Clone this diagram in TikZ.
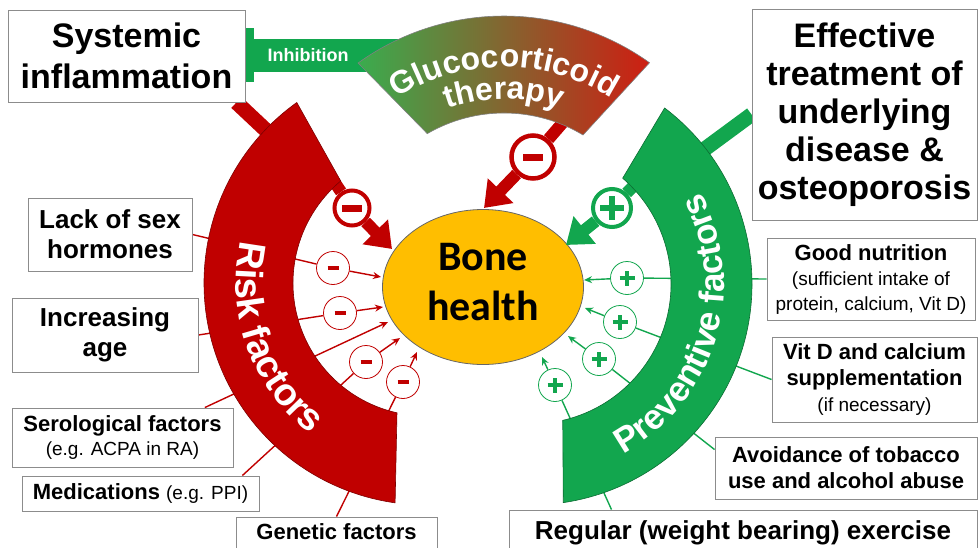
\documentclass[tikz,border=0pt]{standalone}
\usepackage{fontspec}
\setmainfont{Liberation Sans}
\newfontfamily\bonefont{Carlito}
\usetikzlibrary{shapes.geometric, arrows.meta, calc, decorations.text}
\definecolor{riskred}{RGB}{192,0,0}
\definecolor{prevgreen}{RGB}{18,166,78}
\definecolor{gcgreen}{RGB}{58,172,78}
\definecolor{gcred}{RGB}{206,30,18}
\definecolor{bonegold}{RGB}{255,190,0}
\pgfdeclarelayer{bg}
\pgfsetlayers{bg,main}
\tikzset{
	box/.style={rectangle, draw=black!45, line width=0.9pt, fill=white, align=center, inner sep=0pt},
	minusc/.style={circle, draw=riskred, line width=0.8pt, fill=white, text=riskred, minimum size=33pt, inner sep=0pt},
	plusc/.style={circle, draw=prevgreen, line width=0.8pt, fill=white, text=prevgreen, minimum size=33pt, inner sep=0pt},
	feed/.style={line width=1.4pt},
	arr/.style={feed, -{Stealth[length=8pt, width=7pt]}},
	bigarr/.style={line width=12pt, -{Triangle[length=24pt, width=34pt]}},
	band/.style={line width=15pt}
}
\newcommand{\msign}{\rule[-2pt]{11pt}{4pt}}
\newcommand{\psign}{\rule[-1.75pt]{15pt}{3.5pt}\llap{\rule[-7.5pt]{3.5pt}{15pt}\hspace{5.75pt}}}
\newcommand{\bigmsign}{\rule[-3.5pt]{20pt}{7pt}}
\newcommand{\bigpsign}{\rule[-3pt]{24pt}{6pt}\llap{\rule[-12pt]{6pt}{24pt}\hspace{9pt}}}
\newcommand{\note}[1]{{\mdseries\fontsize{19}{24}\selectfont #1}}
\newcommand{\riskfont}{\bfseries\fontsize{38}{38}\selectfont}
\newcommand{\prevfont}{\bfseries\fontsize{35}{35}\selectfont}
\newcommand{\gcfont}{\bfseries\fontsize{32}{32}\selectfont}

\begin{document}
\begin{tikzpicture}[x=1pt, y=-1pt,
        riskarc/.style={fill=riskred, draw=black!35!riskred, line width=0.6pt},
        prevarc/.style={fill=prevgreen, draw=black!35!prevgreen, line width=0.6pt},
        arctext/.style={decorate, decoration={text along path, text align=center, text color=white, text={#1}}}
    ]
        \useasboundingbox (0,0) rectangle (979,547);
        \clip (0,0) rectangle (979,547);

        % boxes
        \node[box, minimum width=237pt, minimum height=92pt, font=\bfseries\fontsize{34}{41}\selectfont] (sysinf) at (126.5,56) {Systemic\\inflammation};
        \node[box, minimum width=225pt, minimum height=211pt, font=\bfseries\fontsize{34}{38}\selectfont] (efftr) at (864.5,114.5) {Effective\\treatment of\\underlying\\disease \&\\osteoporosis};
        \node[box, minimum width=164pt, minimum height=73pt, font=\bfseries\fontsize{26}{30}\selectfont] (lack) at (110,234.5) {Lack of sex\\hormones};
        \node[box, minimum width=186pt, minimum height=74pt, font=\bfseries\fontsize{26}{30}\selectfont] (age) at (105,335) {Increasing\\age};
        \node[box, minimum width=221pt, minimum height=59pt, font=\bfseries\fontsize{22}{24}\selectfont] (sero) at (122.5,437.5) {Serological factors\\\note{(e.g. ACPA in RA)}};
        \node[box, minimum width=237pt, minimum height=35pt, font=\bfseries\fontsize{22}{24}\selectfont] (med) at (140.5,493.5) {Medications \note{(e.g. PPI)}};
        \node[box, minimum width=201pt, minimum height=48pt, text depth=18pt, font=\bfseries\fontsize{22}{24}\selectfont] (gen) at (336.5,541) {Genetic factors};
        \node[box, minimum width=208pt, minimum height=82pt, font=\bfseries\fontsize{22}{25}\selectfont] (good) at (871,279) {Good nutrition\\\note{(sufficient intake of}\\\note{protein, calcium, Vit D)}};
        \node[box, minimum width=205pt, minimum height=85pt, font=\bfseries\fontsize{22}{26}\selectfont] (vitd) at (874.5,379.5) {Vit D and calcium\\supplementation\\\note{(if necessary)}};
        \node[box, minimum width=262pt, minimum height=62pt, font=\bfseries\fontsize{22}{26}\selectfont] (avoid) at (846,468) {Avoidance of tobacco\\use and alcohol abuse};
        \node[box, minimum width=468pt, minimum height=55pt, text depth=14pt, font=\bfseries\fontsize{26}{30}\selectfont] (reg) at (743,537.5) {Regular (weight bearing) exercise};

        \node[ellipse, draw=black!60, line width=0.8pt, fill=bonegold, minimum width=201pt, minimum height=155pt, inner sep=0pt, align=center, text depth=10pt, font=\bonefont\bfseries\fontsize{42}{50}\selectfont] (bone) at (483,287) {Bone\\health};

        % signs
        \node[minusc] (c1) at (333,268) {\msign};
        \node[minusc] (c2) at (340,313) {\msign};
        \node[minusc] (c3) at (366,362) {\msign};
        \node[minusc] (c4) at (403,382) {\msign};
        \node[plusc] (g1) at (627,278) {\psign};
        \node[plusc] (g2) at (620,322) {\psign};
        \node[plusc] (g3) at (599,359) {\psign};
        \node[plusc] (g4) at (555,385) {\psign};
        \node[minusc, line width=4pt, minimum size=35pt] (rbig) at (352,208) {\bigmsign};
        \node[minusc, line width=4.5pt, minimum size=43pt] (gbig) at (533,157) {\bigmsign};
        \node[plusc, line width=4pt, minimum size=38pt] (pbig) at (612,208) {\bigpsign};
        \node[font=\bfseries\fontsize{18}{18}\selectfont, text=white] (inhlbl) at (308,55) {Inhibition};

        \coordinate (rc) at (426,283);
        \coordinate (pc) at (531,284);
        \coordinate (gc) at (504,266);
        \coordinate (sysend) at (287,150);
        \coordinate (effend) at (698,154);
        \coordinate (inhend) at (410,55);
        \coordinate (rstart) at (333,180);
        \coordinate (gstart) at (572,112);
        \coordinate (pstart) at (652,167);
        \coordinate (rtip) at (392,249);
        \coordinate (gtip) at (484,208);
        \coordinate (ptip) at (566,245);
        \coordinate (t1) at (381,277);
        \coordinate (t2) at (383,307);
        \coordinate (ts) at (388,322);
        \coordinate (t3) at (400,338);
        \coordinate (t4) at (417,352);
        \coordinate (u1) at (584,280);
        \coordinate (u2) at (585,308);
        \coordinate (u3) at (568,336);
        \coordinate (u4) at (542,357);

        \begin{pgfonlayer}{bg}
        \draw[riskred, feed] (lack.east) -- (c1);
        \draw[riskred, feed] (age.east) -- (c2);
        \draw[riskred, arr] (sero.20) -- (ts);
        \draw[riskred, feed] (med.10) -- (c3);
        \draw[riskred, feed] (gen.north) -- (c4);
        \draw[prevgreen, feed] (good.west) -- (g1);
        \draw[prevgreen, feed] (vitd.west) -- (g2);
        \draw[prevgreen, feed] (avoid.172) -- (g3);
        \draw[prevgreen, feed] (reg.168) -- (g4);

        \draw[riskred, band] ($(sysinf.south east)+(-9,0)$) -- (sysend);
        \draw[prevgreen, band] (efftr.west) -- (effend);
        \draw[prevgreen, line width=33pt] (inhend) -- (inhend -| sysinf.east);
        \fill[prevgreen] ($(inhend -| sysinf.east)+(0,-27)$) rectangle ++(9,54);
        \draw[riskred, line width=12pt] (rstart) -- (rbig);
        \draw[riskred, line width=12pt] (gstart) -- (gbig);
        \draw[prevgreen, line width=12pt] (pstart) -- (pbig);

        % bands
        \filldraw[riskarc] ($(rc)+(-125.6:222)$) arc[start angle=-125.6, end angle=-262, radius=222]
            -- ($(rc)+(-257.4:133)$) arc[start angle=-257.4, end angle=-129.9, radius=133] -- cycle;
        \filldraw[prevarc] ($(pc)+(-52.8:221)$) arc[start angle=-52.8, end angle=81.6, radius=221]
            -- ($(pc)+(76.9:140)$) arc[start angle=76.9, end angle=-49.1, radius=140] -- cycle;
        \shadedraw[left color=gcgreen, right color=gcred, draw=black!50, line width=0.6pt]
            ($(gc)+(-125.7:250)$) arc[start angle=-125.7, end angle=-54.4, radius=250]
            -- ($(gc)+(-58.9:153)$) arc[start angle=-58.9, end angle=-120.1, radius=153] -- cycle;

        \path[arctext={|\riskfont|Risk factors}] ($(rc)+(-130:190)$) arc[start angle=-130, end angle=-270, radius=190];
        \path[arctext={|\prevfont|Preventive factors}] ($(pc)+(84:193)$) arc[start angle=84, end angle=-51, radius=193];
        \path[arctext={|\gcfont|Glucocorticoid}] ($(gc)+(-135:199)$) arc[start angle=-135, end angle=-45, radius=199];
        \path[arctext={|\gcfont|therapy}] ($(gc)+(-125:167)$) arc[start angle=-125, end angle=-55, radius=167];
        \end{pgfonlayer}

        \draw[riskred, bigarr] (rbig) -- (rtip);
        \draw[riskred, bigarr] (gbig) -- (gtip);
        \draw[prevgreen, bigarr] (pbig) -- (ptip);
        \draw[riskred, arr] (c1) -- (t1);
        \draw[riskred, arr] (c2) -- (t2);
        \draw[riskred, arr] (c3) -- (t3);
        \draw[riskred, arr] (c4) -- (t4);
        \draw[prevgreen, arr] (g1) -- (u1);
        \draw[prevgreen, arr] (g2) -- (u2);
        \draw[prevgreen, arr] (g3) -- (u3);
        \draw[prevgreen, arr] (g4) -- (u4);
    \end{tikzpicture}
\end{document}
